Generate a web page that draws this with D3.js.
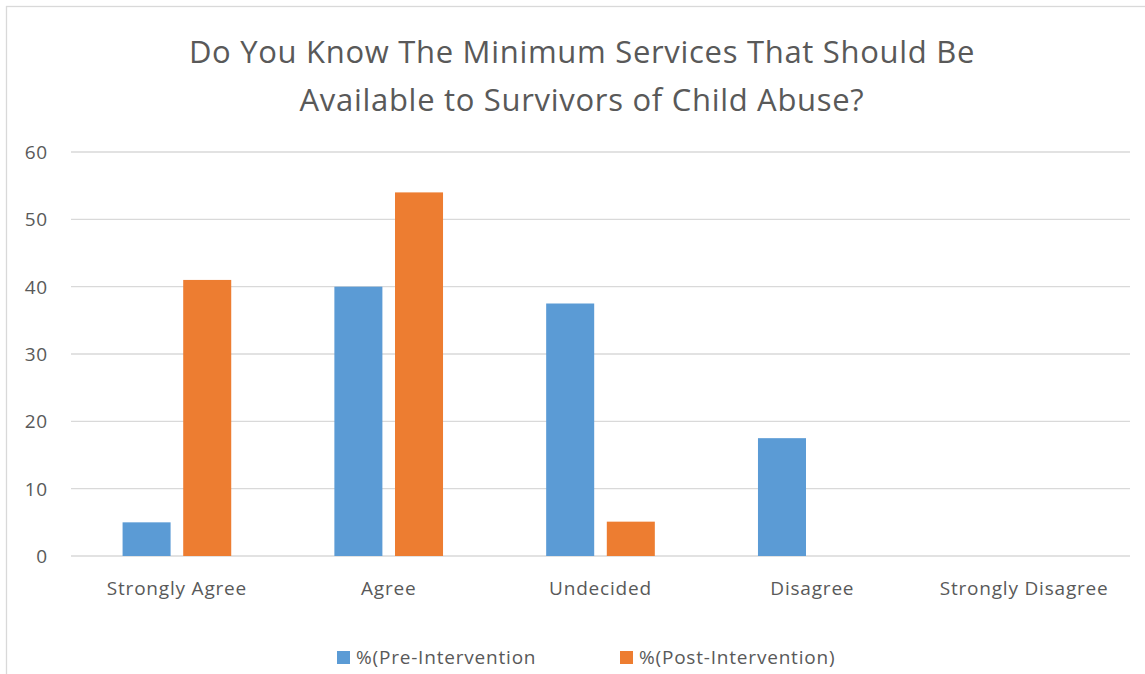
<!DOCTYPE html>
<html><head><meta charset="utf-8">
<script src="https://cdn.jsdelivr.net/npm/d3@7"></script>
<style>html,body{margin:0;padding:0;background:#fff;}svg{display:block;}</style>
</head><body>
<svg id="chart" width="1145" height="674"></svg>
<script>
const categories = ["Strongly Agree","Agree","Undecided","Disagree","Strongly Disagree"];
const seriesNames = ["%(Pre-Intervention","%(Post-Intervention)"];
const preValues = [5, 40, 37.5, 17.5, 0];
const postValues = [41, 54, 5.1, 0, 0];
const yTicks = [0,10,20,30,40,50,60];
const titleLines = ["Do You Know The Minimum Services That Should Be","Available to Survivors of Child Abuse?"];
const colors = ["#5B9BD5","#ED7D31"];

const svg = d3.select("#chart");
const font = "'Open Sans', sans-serif";
const textColor = "#595959";

// chart border
svg.append("rect").attr("x",6.5).attr("y",6.5).attr("width",1150).attr("height",700)
  .attr("fill","none").attr("stroke","#D9D9D9").attr("stroke-width",1.3);

const plot = {left:71, right:1130, top:152, bottom:556};
const x0 = d3.scaleBand().domain(categories).range([plot.left, plot.right]).paddingInner(0.487).paddingOuter(0.2435);
const x1 = d3.scaleBand().domain([0,1]).range([0, x0.bandwidth()]).paddingInner(0.208);
const y = d3.scaleLinear().domain([0,60]).range([plot.bottom, plot.top]);

// gridlines
svg.append("g").selectAll("line").data(yTicks).join("line")
  .attr("x1",plot.left).attr("x2",plot.right)
  .attr("y1",d=>y(d)).attr("y2",d=>y(d))
  .attr("stroke","#D9D9D9").attr("stroke-width",1.3);

// y axis labels
const yAxis = d3.axisLeft(y).tickValues(yTicks).tickSize(0).tickPadding(0);
const yg = svg.append("g").attr("transform",`translate(48,0)`).call(yAxis);
yg.select(".domain").remove();
yg.selectAll("text").attr("font-family",font).attr("font-size",19).attr("letter-spacing",0.8)
  .attr("fill",textColor).attr("dy","0.35em");

// bars
const data = categories.map((c,i)=>({c, vals:[preValues[i], postValues[i]]}));
const groups = svg.append("g").selectAll("g").data(data).join("g")
  .attr("transform",d=>`translate(${x0(d.c)},0)`);
groups.selectAll("rect").data(d=>d.vals.map((v,k)=>({v,k}))).join("rect")
  .filter(d=>d.v>0)
  .attr("x",d=>x1(d.k)).attr("width",x1.bandwidth())
  .attr("y",d=>y(d.v)).attr("height",d=>y(0)-y(d.v))
  .attr("fill",d=>colors[d.k]);

// x axis labels
const xAxis = d3.axisBottom(x0).tickSize(0).tickPadding(0);
const xg = svg.append("g").attr("transform",`translate(0,${plot.bottom})`).call(xAxis);
xg.select(".domain").remove();
xg.selectAll("text").attr("font-family",font).attr("font-size",19).attr("letter-spacing",0.8)
  .attr("fill",textColor).attr("dy",null).attr("y",39);

// title
svg.append("g").selectAll("text").data(titleLines).join("text")
  .attr("x",582).attr("y",(d,i)=>63+i*48).attr("text-anchor","middle")
  .attr("font-family",font).attr("font-size",31).attr("letter-spacing",0.7).attr("fill",textColor)
  .text(d=>d);

// legend
const legendX = [337, 620];
const lg = svg.append("g").selectAll("g").data(seriesNames).join("g")
  .attr("transform",(d,i)=>`translate(${legendX[i]},0)`);
lg.append("rect").attr("x",0).attr("y",651).attr("width",13).attr("height",13).attr("fill",(d,i)=>colors[i]);
lg.append("text").attr("x",19).attr("y",664).attr("font-family",font).attr("font-size",19).attr("letter-spacing",0.8)
  .attr("fill",textColor).text(d=>d);
</script>
</body></html>
